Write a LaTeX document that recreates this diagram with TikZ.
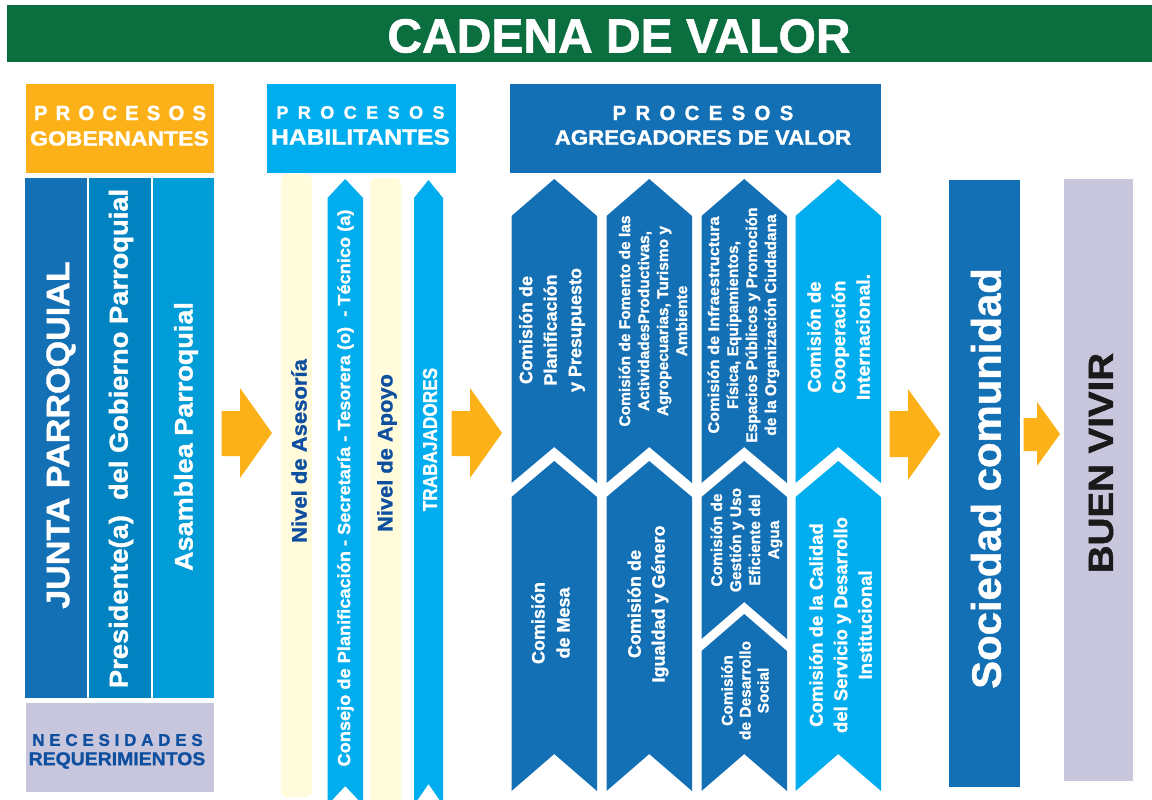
\documentclass[tikz,border=0pt]{standalone}
\usepackage{fontspec}
\setmainfont[BoldFeatures={FakeBold=1.2}]{Liberation Sans}
\definecolor{cgreen}{HTML}{0B6E3F}
\definecolor{corange}{HTML}{FDB119}
\definecolor{ccyan}{HTML}{00AEEF}
\definecolor{cdark}{HTML}{1370B5}
\definecolor{cmid}{HTML}{0083C0}
\definecolor{clight}{HTML}{009DD9}
\definecolor{clilac}{HTML}{C8C6DC}
\definecolor{cyellow}{HTML}{FFFBDB}
\definecolor{ctext}{HTML}{0F4FA0}
\definecolor{cblack}{HTML}{1A1A1A}
\newcommand{\ribbon}[8]{% xl xr apexTop shoulderTop bottom notchApex colour name
 \fill[#7] (#1,#4) -- ({(#1+#2)/2},#3) -- (#2,#4) -- (#2,#5) -- ({(#1+#2)/2},#6) -- (#1,#5) -- cycle;
 \coordinate (#8) at ({(#1+#2)/2},{(#3+#6)/2});}
\newcommand{\blockarrow}[8]{% x0 xneck xtip ytop yshafttop yshaftbot ybot ymid
 \fill[corange] (#1,#5) -- (#2,#5) -- (#2,#4) -- (#3,#8) -- (#2,#7) -- (#2,#6) -- (#1,#6) -- cycle;}
\newcommand{\sx}[2]{\scalebox{#1}[1]{#2}}
\newcommand{\spc}[2]{\def\g{\hspace{#1}}#2}
\newcommand{\fs}[2]{\fontsize{#1}{#2}\selectfont}
\tikzset{
 lab/.style={font=\bfseries,text=white,align=center,inner sep=0pt},
 vlab/.style={lab,rotate=90},
}
\begin{document}
\begin{tikzpicture}[x=1pt,y=-1pt]
\useasboundingbox (0,0) rectangle (1152,800);
\clip (0,0) rectangle (1152,800);
% title
\fill[cgreen] (7,5) rectangle (1152,62);
\node[lab,font=\bfseries\fs{48}{48}] (title) at (619,36) {CADENA DE VALOR};
% headers
\fill[corange] (25.5,84) rectangle (214,173);
\fill[ccyan] (266.5,84) rectangle (455.5,173);
\fill[cdark] (510,84) rectangle (881,173);
\node[lab,font=\bfseries\fs{20.5}{20}] (h1a) at (120,113) {\spc{.39em}{P\g R\g O\g C\g E\g S\g O\g S}};
\node[lab,font=\bfseries\fs{20.5}{20}] (h1b) at (119.5,138.5) {\sx{1.12}{GOBERNANTES}};
\node[lab,font=\bfseries\fs{18}{18}] (h2a) at (360.5,112.5) {\spc{.525em}{P\g R\g O\g C\g E\g S\g O\g S}};
\node[lab,font=\bfseries\fs{22}{22}] (h2b) at (360.5,137) {\sx{1.12}{HABILITANTES}};
\node[lab,font=\bfseries\fs{20.5}{20}] (h3a) at (703,113) {\spc{.45em}{P\g R\g O\g C\g E\g S\g O\g S}};
\node[lab,font=\bfseries\fs{21}{21}] (h3b) at (703,137.5) {\sx{1.06}{AGREGADORES DE VALOR}};
% left columns
\fill[cdark] (25,178) rectangle (87,698);
\fill[cmid] (88.5,178) rectangle (150.5,698);
\fill[clight] (152.5,178) rectangle (214,698);
\node[vlab,font=\bfseries\fs{32.5}{32}] (junta) at (61,435) {\sx{1.05}{JUNTA PARROQUIAL}};
\node[vlab,font=\bfseries\fs{26}{26}] (pres) at (121,438.5) {\sx{1.05}{Presidente(a)\ \ del Gobierno Parroquial}};
\node[vlab,font=\bfseries\fs{25.5}{26}] (asam) at (186,436.5) {\sx{1.06}{Asamblea Parroquial}};
% necesidades
\fill[clilac] (25.5,703) rectangle (214,792);
\node[lab,text=ctext,font=\bfseries\fs{17}{17}] (n1) at (117.5,740) {\spc{.28em}{N\g E\g C\g E\g S\g I\g D\g A\g D\g E\g S}};
\node[lab,text=ctext,font=\bfseries\fs{18.5}{18}] (n2) at (117,760.5) {\sx{1.05}{REQUERIMIENTOS}};
% habilitantes
\fill[cyellow,rounded corners=6pt] (281,174) rectangle (312,797);
\fill[cyellow,rounded corners=6pt] (370,178) rectangle (401,830);
\ribbon{327.5}{363}{179}{198}{805}{786}{ccyan}{r1}
\ribbon{414}{443}{180}{198}{805}{784}{ccyan}{r2}
\node[vlab,text=ctext,font=\bfseries\fs{21}{21}] (a1) at (299,451) {\sx{1.05}{Nivel de Asesoría}};
\node[vlab,font=\bfseries\fs{17.5}{18}] (a2) at (345.5,488) {\sx{1.04}{Consejo de Planificación - Secretaría - Tesorera (o)\ \ - Técnico (a)}};
\node[vlab,text=ctext,font=\bfseries\fs{21}{21}] (a3) at (387,453) {\sx{1.04}{Nivel de Apoyo}};
\node[vlab,font=\bfseries\fs{20}{20}] (a4) at (430,439.5) {\sx{.86}{TRABAJADORES}};
% agregadores
\ribbon{511.5}{597}{179}{216}{483}{447}{cdark}{c1a}
\ribbon{511.5}{597}{461}{497}{791}{754}{cdark}{c1b}
\ribbon{606.5}{692}{179}{216}{483}{447}{cdark}{c2a}
\ribbon{606.5}{692}{461}{497}{791}{754}{cdark}{c2b}
\ribbon{701.5}{787}{179}{216}{483}{447}{cdark}{c3a}
\ribbon{701.5}{787}{461}{497}{639}{602}{cdark}{c3b}
\ribbon{701.5}{787}{614}{651}{791}{754}{cdark}{c3c}
\ribbon{795.5}{881}{179}{216}{483}{447}{ccyan}{c4a}
\ribbon{795.5}{881}{461}{497}{791}{754}{ccyan}{c4b}
\node[vlab,font=\bfseries\fs{18}{24.5}] (t1) at (552,330) {Comisión de\\Planificación\\y Presupuesto};
\node[vlab,font=\bfseries\fs{15.5}{19}] (t2) at (653,321) {Comisión de Fomento de las\\ActividadesProductivas,\\Agropecuarias, Turismo y\\Ambiente};
\node[vlab,font=\bfseries\fs{15.5}{19}] (t3) at (743.5,325) {\sx{1.05}{Comisión de Infraestructura}\\Física, Equipamientos,\\Espacios Públicos y Promoción\\de la Organización Ciudadana};
\node[vlab,font=\bfseries\fs{18.5}{24.5}] (t4) at (838.5,337) {Comisión de\\Cooperación\\\sx{1.05}{Internacional.}};
\node[vlab,font=\bfseries\fs{18}{25}] (t5) at (550.5,623) {Comisión\\de Mesa};
\node[vlab,font=\bfseries\fs{18}{24}] (t6) at (648,604) {Comisión de\\Igualdad y Género};
\node[vlab,font=\bfseries\fs{15.5}{19}] (t7) at (746.5,540) {Comisión de\\Gestión y Uso\\Eficiente del\\Agua};
\node[vlab,font=\bfseries\fs{15.5}{18}] (t8) at (745,690.5) {Comisión\\de Desarrollo\\Social};
\node[vlab,font=\bfseries\fs{18.5}{24.5}] (t9) at (840.5,625) {Comisión de la Calidad\\del Servicio y Desarrollo\\Institucional};
% arrows
\blockarrow{221.5}{240}{272}{388}{411}{456}{478}{433}
\blockarrow{451.5}{470}{502}{388}{411}{456}{478}{433}
\blockarrow{889.5}{908}{940.5}{389}{411}{457}{480}{434}
\blockarrow{1023.5}{1037}{1060}{402}{418}{451}{466}{434}
% right
\fill[cdark] (949,180) rectangle (1020,787);
\fill[clilac] (1064,179) rectangle (1133,781);
\node[vlab,font=\bfseries\fs{41}{41}] (soc) at (986,478.5) {\sx{1.02}{Sociedad comunidad}};
\node[vlab,text=cblack,font=\bfseries\fs{35}{35}] (bv) at (1101,463) {\sx{1.10}{BUEN VIVIR}};
\end{tikzpicture}
\end{document}
